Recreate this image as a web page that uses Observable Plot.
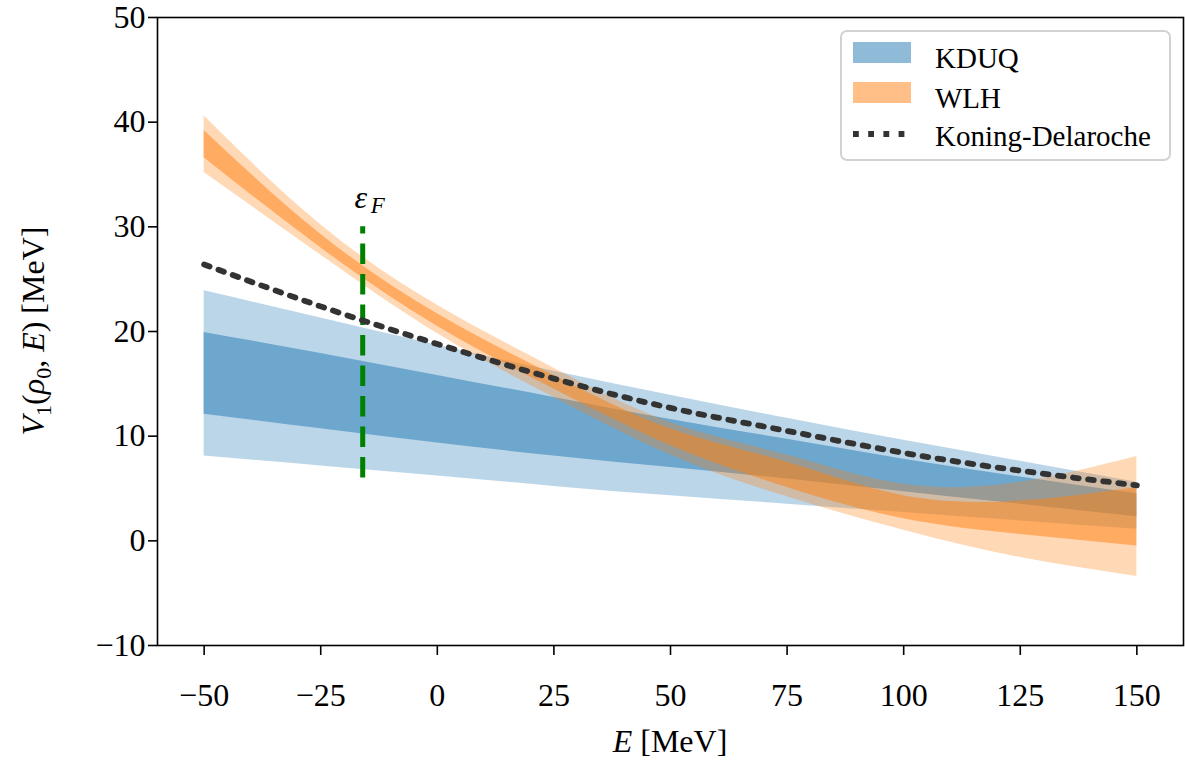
<!DOCTYPE html>
<html>
<head>
<meta charset="utf-8">
<script src="https://cdn.jsdelivr.net/npm/d3@7"></script>
<script src="https://cdn.jsdelivr.net/npm/@observablehq/plot@0.6"></script>
<style>
  html, body { margin: 0; padding: 0; background: #fff; }
  #wrap { position: relative; width: 1185px; height: 765px; font-family: "Liberation Serif", "DejaVu Serif", serif; }
  #legend { position: absolute; left: 840px; top: 30px; width: 327px; height: 127px;
    border: 2px solid #d2d2d2; border-radius: 7px; background: rgba(255,255,255,0.85); }
  .sw { position: absolute; left: 11px; width: 58px; height: 21px; }
  .lt { position: absolute; left: 93px; font-size: 29px; line-height: 1; color: #000; white-space: nowrap; }
</style>
</head>
<body>
<div id="wrap"></div>
<script>
// ---- data ----
const energy = [-50, -25, 0, 25, 50, 75, 100, 125, 150];
// KDUQ bands
const kduqOuterLow  = [8.1, 7.15, 6.2, 5.2, 4.3, 3.5, 2.7, 1.9, 1.1];
const kduqOuterHigh = [23.9, 21.3, 18.7, 16.2, 13.9, 11.7, 9.6, 7.6, 5.6];
const kduqInnerLow  = [12.1, 10.7, 9.35, 8.1, 7.0, 5.9, 4.7, 3.5, 2.3];
const kduqInnerHigh = [19.9, 17.9, 15.8, 13.7, 11.6, 9.7, 7.8, 6.1, 4.5];
// WLH bands
const wlhOuterLow  = [35.2, 27.3, 19.8, 13.7, 8.2, 4.2, 1.0, -1.6, -3.4];
const wlhOuterHigh = [40.6, 30.2, 22.5, 16.5, 11.3, 8.2, 5.4, 5.6, 8.05];
const wlhInnerLow  = [36.6, 28.0, 20.5, 14.5, 9.1, 5.1, 2.1, 0.6, -0.5];
const wlhInnerHigh = [39.2, 29.3, 21.7, 15.8, 10.7, 7.5, 4.3, 3.8, 5.1];
// Koning-Delaroche
const kdValues = [26.4, 22.4, 18.8, 15.5, 12.7, 10.5, 8.4, 6.7, 5.3];
// Fermi energy marker
const fermiE = [-16];
const fermiSpan = [6, 30];
const fermiLabelY = 33;
// ticks
const xTicks = [-50, -25, 0, 25, 50, 75, 100, 125, 150];
const yTicks = [-10, 0, 10, 20, 30, 40, 50];

const rows = energy.map((e, i) => ({
  E: e,
  kLo95: kduqOuterLow[i], kHi95: kduqOuterHigh[i],
  kLo68: kduqInnerLow[i], kHi68: kduqInnerHigh[i],
  wLo95: wlhOuterLow[i], wHi95: wlhOuterHigh[i],
  wLo68: wlhInnerLow[i], wHi68: wlhInnerHigh[i],
  kd: kdValues[i]
}));
const fermiRows = fermiE.map(e => ({E: e, y1: fermiSpan[0], y2: fermiSpan[1]}));

const C0 = "#1f77b4", C1 = "#ff7f0e";
const FONT = "Liberation Serif, DejaVu Serif, serif";

const svg = Plot.plot({
  width: 1185, height: 765,
  marginLeft: 157, marginRight: 2, marginTop: 17, marginBottom: 120,
  style: {fontFamily: FONT, fontSize: "32px", background: "white", color: "black"},
  x: {domain: [-60, 160]},
  y: {domain: [-10, 50]},
  marks: [
    Plot.areaY(rows, {x: "E", y1: "kLo95", y2: "kHi95", fill: C0, fillOpacity: 0.3, curve: "natural"}),
    Plot.areaY(rows, {x: "E", y1: "kLo68", y2: "kHi68", fill: C0, fillOpacity: 0.5, curve: "natural"}),
    Plot.areaY(rows, {x: "E", y1: "wLo95", y2: "wHi95", fill: C1, fillOpacity: 0.3, curve: "natural"}),
    Plot.areaY(rows, {x: "E", y1: "wLo68", y2: "wHi68", fill: C1, fillOpacity: 0.5, curve: "natural"}),
    Plot.ruleX(fermiRows, {x: "E", y1: "y1", y2: "y2", stroke: "green", strokeWidth: 5, strokeDasharray: "20.5,10"}),
    Plot.line(rows, {x: "E", y: "kd", stroke: "#333", strokeWidth: 5.8, strokeDasharray: "5.8,9.4", curve: "natural"}),
    Plot.text(fermiE, {x: d => d, y: () => fermiLabelY, text: () => "ε", fontStyle: "italic", fontSize: 32, dx: -2, dy: 2}),
    Plot.text(fermiE, {x: d => d, y: () => fermiLabelY, text: () => "F", fontStyle: "italic", fontSize: 23, dx: 15, dy: 10}),
    Plot.frame({stroke: "black", strokeWidth: 1.6}),
    Plot.axisX({ticks: xTicks, tickSize: 10, tickPadding: 28, label: null, fontSize: 32, strokeWidth: 1.6}),
    Plot.axisY({ticks: yTicks, tickSize: 9, tickPadding: 3, label: null, fontSize: 32, strokeWidth: 1.6})
  ]
});

const s = d3.select(svg);
// x axis label
const xl = s.append("text").attr("x", 670).attr("y", 752).attr("text-anchor", "middle")
  .attr("font-size", 32).attr("font-family", FONT);
xl.append("tspan").attr("font-style", "italic").text("E");
xl.append("tspan").text(" [MeV]");
// y axis label
const yl = s.append("text").attr("transform", "translate(44,331) rotate(-90)").attr("text-anchor", "middle")
  .attr("font-size", 32).attr("font-family", FONT);
yl.append("tspan").attr("font-style", "italic").text("V");
yl.append("tspan").attr("font-size", 22).attr("dy", 7).text("1");
yl.append("tspan").attr("dy", -7).text("(");
yl.append("tspan").attr("font-style", "italic").text("ρ");
yl.append("tspan").attr("font-size", 22).attr("dy", 7).text("0");
yl.append("tspan").attr("dy", -7).text(", ");
yl.append("tspan").attr("font-style", "italic").text("E");
yl.append("tspan").text(") [MeV]");

const wrap = document.getElementById("wrap");
wrap.appendChild(svg);

// legend
const legend = document.createElement("div");
legend.id = "legend";
legend.innerHTML = `
  <div class="sw" style="top:10px;background:rgba(31,119,180,0.5)"></div>
  <div class="lt" style="top:12px">KDUQ</div>
  <div class="sw" style="top:50px;background:rgba(255,127,14,0.5)"></div>
  <div class="lt" style="top:52px">WLH</div>
  <svg style="position:absolute;left:11px;top:96px" width="58" height="12">
    <line x1="0" y1="6" x2="58" y2="6" stroke="#333" stroke-width="5.8" stroke-dasharray="5.8,9.4"/>
  </svg>
  <div class="lt" style="top:90px">Koning-Delaroche</div>`;
wrap.appendChild(legend);
</script>
</body>
</html>
